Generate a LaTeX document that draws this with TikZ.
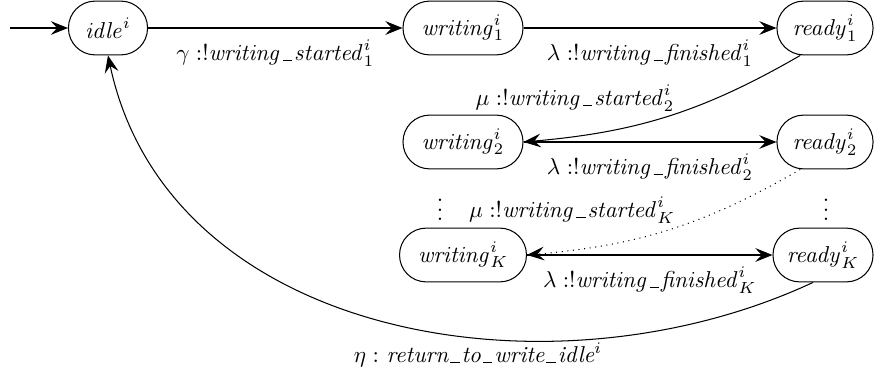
\documentclass[tikz,border=0pt]{standalone}
\usetikzlibrary{arrows.meta}
\newcommand{\usc}{\mbox{\kern0.08em\rule[-0.1pt]{0.42em}{0.4pt}\kern0.08em}}
\begin{document}
\begin{tikzpicture}[x=0.435pt,y=0.435pt,
  state/.style={draw, rectangle, rounded corners=11.6pt, minimum height=23.4pt, inner sep=0pt, line width=0.45pt},
  tr/.style={-{Stealth[length=7.5pt,width=6pt,inset=2.8pt]}, line width=0.45pt},
  lbl/.style={inner sep=1pt}]
\useasboundingbox (0,0) rectangle (875,-374);
% states
\node[state, minimum width=34.4pt] (idle) at (108,-28) {$\mathit{idle}^i$};
\node[state, minimum width=52.2pt] (w1) at (463,-28) {$\mathit{writing}^i_1$};
\node[state, minimum width=41.8pt] (r1) at (825,-28) {$\mathit{ready}^i_1$};
\node[state, minimum width=52.2pt] (w2) at (463,-142) {$\mathit{writing}^i_2$};
\node[state, minimum width=41.8pt] (r2) at (825,-142) {$\mathit{ready}^i_2$};
\node[state, minimum width=55.2pt] (wK) at (463,-255) {$\mathit{writing}^i_K$};
\node[state, minimum width=43.5pt] (rK) at (823,-255) {$\mathit{ready}^i_K$};
\coordinate (start) at (10,-28);
% dots
\node[inner sep=0pt] (d1) at (440,-203) {$\vdots$};
\node[inner sep=0pt] (d2) at (826,-203) {$\vdots$};
% transitions
\draw[tr] (start) -- (idle);
\draw[tr] (idle) -- node[lbl, below=4pt] {$\gamma:!\mathit{writing\usc started}^i_1$} (w1);
\draw[tr] (w1) -- node[lbl, below=4pt] {$\lambda:!\mathit{writing\usc finished}^i_1$} (r1);
\draw[tr] (r1.228) to[out=210,in=5] (w2.east);
\node[lbl] (mu2) at (575,-98) {$\mu:!\mathit{writing\usc started}^i_2$};
\draw[tr] (w2) -- node[lbl, below=4pt] {$\lambda:!\mathit{writing\usc finished}^i_2$} (r2);
\draw[tr, dotted] (r2.228) to[out=210,in=5] (wK.east);
\node[lbl] (muK) at (572,-210) {$\mu:!\mathit{writing\usc started}^i_K$};
\draw[tr] (wK) -- node[lbl, below=4pt] {$\lambda:!\mathit{writing\usc finished}^i_K$} (rK);
\draw[tr] (rK.250) to[out=205,in=-78,looseness=1.0] (idle.south);
\node[lbl] (eta) at (478,-355) {$\eta:$ \textit{return\usc to\usc write\usc idle}$^i$};
\end{tikzpicture}
\end{document}
